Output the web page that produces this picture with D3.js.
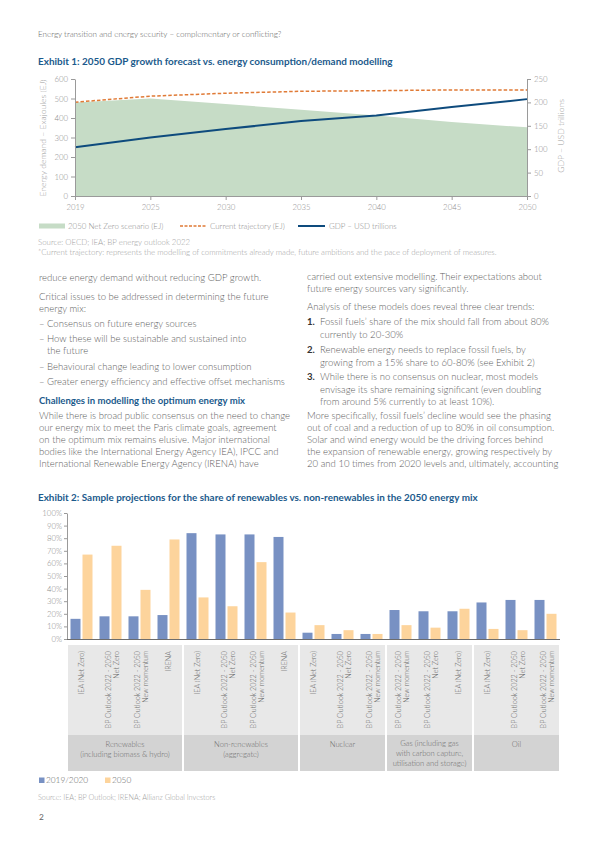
<!DOCTYPE html>
<html><head><meta charset="utf-8">
<script src="https://cdn.jsdelivr.net/npm/d3@7"></script>
<style>
body{margin:0;background:#fff;}
svg{display:block;font-family:Lato, "Open Sans", sans-serif;}
</style></head><body>
<script>
// ---------- Exhibit 1 data ----------
const years = ["2019","2025","2030","2035","2040","2045","2050"];
const netZeroEJ = [480, 500, 472, 442, 413, 380, 352];
const currentEJ = [481, 512, 527, 537, 540, 544, 544];
const gdpTrillions = [104, 125, 143, 160, 172, 190, 207];
const leftTicks = [0,100,200,300,400,500,600];
const rightTicks = [0,50,100,150,200,250];

// ---------- Exhibit 2 data ----------
const groupLabels = [
  ["IEA (Net Zero)"], ["BP Outlook 2022 - 2050","Net Zero"], ["BP Outlook 2022 - 2050","New momentum"], ["IRENA"],
  ["IEA (Net Zero)"], ["BP Outlook 2022 - 2050","Net Zero"], ["BP Outlook 2022 - 2050","New momentum"], ["IRENA"],
  ["IEA (Net Zero)"], ["BP Outlook 2022 - 2050","Net Zero"], ["BP Outlook 2022 - 2050","New momentum"],
  ["BP Outlook 2022 - 2050","New momentum"], ["BP Outlook 2022 - 2050","Net Zero"], ["IEA (Net Zero)"],
  ["IEA (Net Zero)"], ["BP Outlook 2022 - 2050","Net Zero"], ["BP Outlook 2022 - 2050","New momentum"]
];
const categories = [
  ["Renewables","(including biomass & hydro)"],
  ["Non-renewables","(aggregate)"],
  ["Nuclear"],
  ["Gas (including gas","with carbon capture,","utilisation and storage)"],
  ["Oil"]
];
const groupsPerCategory = [4,4,3,3,3];
const share2019 = [16,18,18,19, 84,83,83,81, 5,4,4, 23,22,22, 29,31,31];
const share2050 = [67,74,39,79, 33,26,61,21, 11,7,4, 11,9,24, 8,7,20];
const pctTicks = [0,10,20,30,40,50,60,70,80,90,100];

const W=600,H=848;
const svg=d3.select("body").append("svg").attr("width",W).attr("height",H);
svg.append("rect").attr("width",W).attr("height",H).attr("fill","#fff");

const grey="#606060", light="#8c8c8c", blueT="#1b5a8c";

svg.append("text").attr("x",38).attr("y",37).attr("font-size",8.1).attr("fill",grey).attr("font-weight",300)
  .text("Energy transition and energy security – complementary or conflicting?");
svg.append("text").attr("x",38).attr("y",65).attr("font-size",9.95).attr("font-weight",700).attr("fill",blueT)
  .text("Exhibit 1: 2050 GDP growth forecast vs. energy consumption/demand modelling");

// ---- Chart 1 ----
const x1=d3.scalePoint().domain(years).range([75,527]);
const yL=d3.scaleLinear().domain([0,600]).range([196,79]);
const yR=d3.scaleLinear().domain([0,250]).range([196,79]);
const c1=svg.append("g");
c1.append("path").datum(years.map((y,i)=>[y,netZeroEJ[i]]))
  .attr("fill","#c6dcc6")
  .attr("d",d3.area().x(d=>x1(d[0])).y0(yL(0)).y1(d=>yL(d[1])));
c1.append("path").datum(years.map((y,i)=>[y,currentEJ[i]]))
  .attr("fill","none").attr("stroke","#e07a36").attr("stroke-width",1.5).attr("stroke-dasharray","3.5,2")
  .attr("d",d3.line().x(d=>x1(d[0])).y(d=>yL(d[1])));
c1.append("path").datum(years.map((y,i)=>[y,gdpTrillions[i]]))
  .attr("fill","none").attr("stroke","#0e4b7d").attr("stroke-width",2)
  .attr("d",d3.line().x(d=>x1(d[0])).y(d=>yR(d[1])));

function styleAxis(g){
  g.selectAll("path,line").attr("stroke","#9a9a9a");
  g.selectAll("text").attr("fill",light).attr("font-size",7.8).attr("font-weight",300).attr("font-family","Lato, sans-serif");
}
c1.append("g").attr("transform","translate(75,0)")
  .call(d3.axisLeft(yL).tickValues(leftTicks).tickSize(4).tickSizeOuter(0).tickPadding(3)).call(styleAxis);
c1.append("g").attr("transform","translate(527,0)")
  .call(d3.axisRight(yR).tickValues(rightTicks).tickSize(4).tickSizeOuter(0).tickPadding(3)).call(styleAxis);
c1.append("g").attr("transform","translate(0,196)")
  .call(d3.axisBottom(x1).tickSize(4).tickSizeOuter(0).tickPadding(4)).call(styleAxis);
c1.append("text").attr("transform","translate(46,138) rotate(-90)").attr("text-anchor","middle")
  .attr("font-size",8.6).attr("font-weight",300).attr("fill","#999").text("Energy demand – Exajoules (EJ)");
c1.append("text").attr("transform","translate(564,136) rotate(-90)").attr("text-anchor","middle")
  .attr("font-size",8.6).attr("font-weight",300).attr("fill","#999").text("GDP – USD trillions");

// legend 1
const lg=svg.append("g").attr("font-size",7.9).attr("fill",light).attr("font-weight",300);
lg.append("rect").attr("x",39).attr("y",223.5).attr("width",26).attr("height",5).attr("fill","#c6dcc6");
lg.append("text").attr("x",68).attr("y",228.5).text("2050 Net Zero scenario (EJ)");
lg.append("line").attr("x1",180).attr("x2",207).attr("y1",226).attr("y2",226).attr("stroke","#e07a36").attr("stroke-width",1.5).attr("stroke-dasharray","3,1.5");
lg.append("text").attr("x",210).attr("y",228.5).text("Current trajectory (EJ)");
lg.append("line").attr("x1",298).attr("x2",325).attr("y1",226).attr("y2",226).attr("stroke","#0e4b7d").attr("stroke-width",2);
lg.append("text").attr("x",329).attr("y",228.5).text("GDP – USD trillions");
svg.append("text").attr("x",38).attr("y",245).attr("font-size",7.9).attr("fill","#a0a0a0").attr("font-weight",300)
  .text("Source: OECD; IEA; BP energy outlook 2022");
svg.append("text").attr("x",38).attr("y",255).attr("font-size",7.9).attr("fill","#a0a0a0").attr("font-weight",300)
  .text("*Current trajectory: represents the modelling of commitments already made, future ambitions and the pace of deployment of measures.");

// ---- body text ----
const fs=9.55;
const leftLines=[
 [281,39,"reduce energy demand without reducing GDP growth."],
 [300,39,"Critical issues to be addressed in determining the future"],
 [311.5,39,"energy mix:"],
 [327,47,"Consensus on future energy sources","–"],
 [342,47,"How these will be sustainable and sustained into","–"],
 [354,47,"the future"],
 [369.5,47,"Behavioural change leading to lower consumption","–"],
 [384.5,47,"Greater energy efficiency and effective offset mechanisms","–"],
 [419,39,"While there is broad public consensus on the need to change"],
 [431,39,"our energy mix to meet the Paris climate goals, agreement"],
 [443,39,"on the optimum mix remains elusive. Major international"],
 [455,39,"bodies like the International Energy Agency IEA), IPCC and"],
 [467,39,"International Renewable Energy Agency (IRENA) have"]
];
const rightLines=[
 [280,307,"carried out extensive modelling. Their expectations about"],
 [292,307,"future energy sources vary significantly."],
 [310,307,"Analysis of these models does reveal three clear trends:"],
 [325,320,"Fossil fuels’ share of the mix should fall from about 80%","1."],
 [338,320,"currently to 20-30%"],
 [353,320,"Renewable energy needs to replace fossil fuels, by","2."],
 [366,320,"growing from a 15% share to 60-80% (see Exhibit 2)"],
 [380,320,"While there is no consensus on nuclear, most models","3."],
 [392.5,320,"envisage its share remaining significant (even doubling"],
 [404.5,320,"from around 5% currently to at least 10%)."],
 [419,307,"More specifically, fossil fuels’ decline would see the phasing"],
 [431,307,"out of coal and a reduction of up to 80% in oil consumption."],
 [443,307,"Solar and wind energy would be the driving forces behind"],
 [455,307,"the expansion of renewable energy, growing respectively by"],
 [467,307,"20 and 10 times from 2020 levels and, ultimately, accounting"]
];
const tg=svg.append("g").attr("font-size",fs).attr("fill",grey).attr("font-weight",300);
leftLines.concat(rightLines).forEach(l=>{
  tg.append("text").attr("x",l[1]).attr("y",l[0]).text(l[2]);
  if(l[3]==="–") tg.append("text").attr("x",39).attr("y",l[0]).text("–");
  else if(l[3]) tg.append("text").attr("x",307).attr("y",l[0]).attr("font-weight",700).attr("fill","#333").text(l[3]);
});
svg.append("text").attr("x",39).attr("y",404).attr("font-size",fs).attr("font-weight",700).attr("fill",blueT)
  .text("Challenges in modelling the optimum energy mix");

// ---- Chart 2 ----
svg.append("text").attr("x",38).attr("y",501).attr("font-size",9.9).attr("font-weight",700).attr("fill",blueT)
  .text("Exhibit 2: Sample projections for the share of renewables vs. non-renewables in the 2050 energy mix");

const ids=d3.range(share2019.length);
const x2=d3.scaleBand().domain(ids).range([67,560]).padding(0);
const sub=d3.scaleBand().domain(["a","b"]).range([3.5,x2.bandwidth()-3.5]).paddingInner(0.1667);
const y2=d3.scaleLinear().domain([0,100]).range([639,513]);
const c2=svg.append("g");
c2.selectAll("rect.b1").data(ids).join("rect").attr("class","b1")
  .attr("x",i=>x2(i)+sub("a")).attr("width",sub.bandwidth())
  .attr("y",i=>y2(share2019[i])).attr("height",i=>y2(0)-y2(share2019[i])).attr("fill","#7891c3");
c2.selectAll("rect.b2").data(ids).join("rect").attr("class","b2")
  .attr("x",i=>x2(i)+sub("b")).attr("width",sub.bandwidth())
  .attr("y",i=>y2(share2050[i])).attr("height",i=>y2(0)-y2(share2050[i])).attr("fill","#fdd49c");
c2.append("g").attr("transform","translate(67,0)")
  .call(d3.axisLeft(y2).tickValues(pctTicks).tickFormat(d=>d+"%").tickSize(3).tickSizeOuter(0).tickPadding(2))
  .call(styleAxis);
c2.append("line").attr("x1",67).attr("x2",560).attr("y1",639.5).attr("y2",639.5).attr("stroke","#6d6d6d").attr("stroke-width",1.2);

// category panels
let start=0;
const pg=svg.append("g");
categories.forEach((cat,ci)=>{
  const n=groupsPerCategory[ci];
  const x0=x2(start), xe=x2(start+n-1)+x2.bandwidth();
  pg.append("rect").attr("x",x0+1).attr("y",645).attr("width",xe-x0-2).attr("height",90).attr("fill","#e8e8e8");
  pg.append("rect").attr("x",x0+1).attr("y",735).attr("width",xe-x0-2).attr("height",36).attr("fill","#d3d3d3");
  cat.forEach((t,k)=>{
    pg.append("text").attr("x",(x0+xe)/2).attr("y",(cat.length===3?745.5:747)+k*10).attr("text-anchor","middle")
      .attr("font-size",7.6).attr("fill","#6a6a6a").attr("font-weight",300).text(t);
  });
  start+=n;
});
ids.forEach(i=>{
  const c=x2(i)+x2.bandwidth()/2;
  const lines=groupLabels[i];
  lines.forEach((t,k)=>{
    const off=(k-(lines.length-1)/2)*8+ (lines.length===1?2.5:4.5);
    pg.append("text").attr("transform",`translate(${c+off},651) rotate(-90)`).attr("text-anchor","end")
      .attr("font-size",7.2).attr("fill","#6a6a6a").attr("font-weight",300).text(t);
  });
});

// legend 2
const l2=svg.append("g").attr("font-size",8.3).attr("fill",grey).attr("font-weight",300);
l2.append("rect").attr("x",39).attr("y",777.5).attr("width",5.5).attr("height",5.5).attr("fill","#7891c3");
l2.append("text").attr("x",46).attr("y",783).text("2019/2020");
l2.append("rect").attr("x",105).attr("y",777.5).attr("width",5.5).attr("height",5.5).attr("fill","#fdd49c");
l2.append("text").attr("x",112).attr("y",783).text("2050");
svg.append("text").attr("x",38).attr("y",800).attr("font-size",7.3).attr("fill","#a0a0a0").attr("font-weight",300)
  .text("Source: IEA; BP Outlook; IRENA; Allianz Global Investors");
svg.append("text").attr("x",39).attr("y",820).attr("font-size",8.3).attr("fill",grey).text("2");
</script>
</body></html>
